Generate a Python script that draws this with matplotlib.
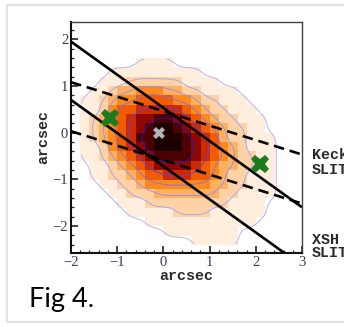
"""Fig 4 - host image (0.2" pixels) with the Keck and X-shooter slit positions."""

import numpy as np
import matplotlib

matplotlib.use("Agg")
import matplotlib.pyplot as plt
from matplotlib.colors import ListedColormap
from matplotlib.patches import Rectangle

# image cells, 0.2" wide; rows go from y=+1.5 (top) down to y=-2.3, columns x=-1.7..2.5
IMG_EXTENT = (-1.8, 2.6, -2.4, 1.6)
IMG_ROWS = [
    "0000001111000000000000",
    "0001111111111000000000",
    "0011122222211110000000",
    "0112334443322111100000",
    "1123445555443221110000",
    "1124556666654322111000",
    "1234567788765432211100",
    "1234567899876543221100",
    "1234568899987653221110",
    "1124567899987654321110",
    "1123456788887654322110",
    "0112345677776543322110",
    "0112234556665543221110",
    "0011223444444433221110",
    "0001122233333332211110",
    "0000111222222222111100",
    "0000011111222211111100",
    "0000000111111111111000",
    "0000000001111111100000",
    "0000000000001111100000",
]
LEVEL_COLOURS = ["#ffffff", "#ffeede", "#ffd2a6", "#ffb062", "#ff8a1c",
                 "#f25c00", "#cc2a00", "#900600", "#4c0000", "#1c0000"]
CONTOUR_LEVELS = [0.45, 1.7, 2.9, 4.2, 5.7, 7.4]
CONTOUR_COLOURS = ["#b4b6f4", "#a6a6f0", "#9890ea", "#8a70de", "#6a40cc", "#1e1eb0"]

# slit edges: y = slope * x + intercept
XSH_SLOPE, XSH_INTERCEPTS = -0.71, [0.53, -0.72]
KECK_SLOPE, KECK_INTERCEPTS = -0.31, [0.46, -0.59]

# markers (arcsec)
GREEN_X = [-1.15, 2.1]
GREEN_Y = [0.32, -0.68]
CENTRE_X, CENTRE_Y = [-0.1], [0.0]

W, H = 344, 327
UPS = 4  # contour on a 4x finer, lightly smoothed copy of the image


def _smooth(img, sigma_px):
    k = np.arange(-3 * sigma_px, 3 * sigma_px + 1)
    g = np.exp(-0.5 * (k / sigma_px) ** 2)
    g /= g.sum()
    pad = len(k)
    a = np.pad(img, pad)
    a = np.apply_along_axis(lambda r: np.convolve(r, g, mode="same"), 0, a)
    a = np.apply_along_axis(lambda r: np.convolve(r, g, mode="same"), 1, a)
    return a[pad:-pad, pad:-pad]


def main() -> None:
    intensity = np.array([[int(c) for c in row] for row in IMG_ROWS], dtype=float)
    x0, x1, y0, y1 = IMG_EXTENT
    fine = _smooth(np.kron(intensity, np.ones((UPS, UPS))), 2.5)
    step = 0.2 / UPS
    xf = np.arange(fine.shape[1]) * step + x0 + step / 2
    yf = y1 - step / 2 - np.arange(fine.shape[0]) * step

    fig = plt.figure(figsize=(W / 100, H / 100), dpi=100)
    fig.add_artist(Rectangle((7 / W, 1 - 322 / H), 1.2, (322 - 5) / H, transform=fig.transFigure,
                             fill=False, ec="#e2e2e2", lw=1.6, clip_on=False))
    ax = fig.add_axes([71 / W, 1 - 253 / H, (302 - 71) / W, (253 - 22) / H])

    ax.imshow(intensity, extent=IMG_EXTENT, origin="upper", interpolation="nearest",
              cmap=ListedColormap(LEVEL_COLOURS), vmin=-0.5, vmax=9.5, aspect="auto", zorder=1)
    ax.contour(xf, yf, fine, levels=CONTOUR_LEVELS, colors=CONTOUR_COLOURS,
               linewidths=0.7, zorder=2)

    xs = np.array([-2.0, 3.0])
    for b in XSH_INTERCEPTS:
        ax.plot(xs, XSH_SLOPE * xs + b, color="black", lw=1.9, solid_capstyle="butt", zorder=3)
    for b in KECK_INTERCEPTS:
        ax.plot(xs, KECK_SLOPE * xs + b, color="black", lw=1.9, ls=(0, (4.0, 2.2)), zorder=3)

    ax.plot(GREEN_X, GREEN_Y, ls="none", marker="X", ms=13, color="#1d7a1d", mew=0, zorder=4)
    ax.plot(CENTRE_X, CENTRE_Y, ls="none", marker="X", ms=8, color="#b4b4b4", mew=0, zorder=4)

    ax.set_xlim(-2, 3)
    ax.set_ylim(-2.58, 2.37)
    ax.set_xticks(range(-2, 4))
    ax.set_yticks(range(-2, 3))
    ax.set_xticks(np.arange(-2, 3.01, 0.2), minor=True)
    ax.set_yticks(np.arange(-2.4, 2.31, 0.2), minor=True)
    ax.tick_params(which="both", direction="in", top=False, right=False, colors="#222222",
                   labelcolor="#3a3a5a", labelsize=10.5, pad=2)
    ax.tick_params(which="major", length=5, width=1.2)
    ax.tick_params(which="minor", length=2.5, width=0.9)
    for lab in ax.get_xticklabels() + ax.get_yticklabels():
        lab.set_family("Liberation Serif")
    for side in ("left", "bottom"):
        ax.spines[side].set_linewidth(1.5)
        ax.spines[side].set_color("#111111")
    for side in ("top", "right"):
        ax.spines[side].set_linewidth(1.0)
        ax.spines[side].set_color("#444444")

    mono = dict(family="Liberation Mono", weight="bold", fontsize=10.8, color="#2a2a2a")
    ax.set_xlabel("arcsec", labelpad=0, **mono)
    ax.set_ylabel("arcsec", labelpad=2, **mono)
    for txt, ypx in (("Keck", 155), ("SLIT", 170), ("XSH", 240), ("SLIT", 253)):
        fig.text(312 / W, 1 - ypx / H, txt, va="center", ha="left", **mono)

    fig.text(29 / W, 1 - 307 / H, "Fig 4.", family="Lato", fontsize=19.5, va="baseline")
    fig.savefig("out.png", dpi=100)
    plt.close(fig)


if __name__ == "__main__":
    main()
